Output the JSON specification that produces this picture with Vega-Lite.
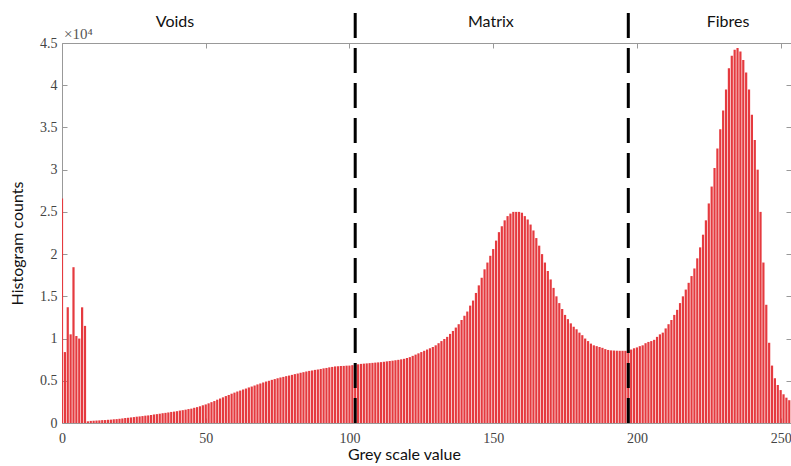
{
  "$schema": "https://vega.github.io/schema/vega-lite/v6.json",
  "width": 729,
  "height": 380,
  "padding": {"left": 62, "top": 43, "right": 0, "bottom": 43},
  "autosize": {"type": "none"},
  "background": "white",
  "config": {"view": {"stroke": null}},
  "datasets": {
    "hist": [
      {"g":0,"c":26600},{"g":1,"c":8400},{"g":2,"c":13700},{"g":3,"c":10500},{"g":4,"c":18450},{"g":5,"c":10300},{"g":6,"c":10000},{"g":7,"c":13700},{"g":8,"c":11500},{"g":9,"c":200},
      {"g":10,"c":250},{"g":11,"c":270},{"g":12,"c":290},{"g":13,"c":310},{"g":14,"c":340},{"g":15,"c":350},{"g":16,"c":380},{"g":17,"c":400},{"g":18,"c":440},{"g":19,"c":460},
      {"g":20,"c":500},{"g":21,"c":540},{"g":22,"c":590},{"g":23,"c":620},{"g":24,"c":660},{"g":25,"c":700},{"g":26,"c":750},{"g":27,"c":780},{"g":28,"c":820},{"g":29,"c":870},
      {"g":30,"c":900},{"g":31,"c":950},{"g":32,"c":1010},{"g":33,"c":1050},{"g":34,"c":1100},{"g":35,"c":1160},{"g":36,"c":1200},{"g":37,"c":1250},{"g":38,"c":1310},{"g":39,"c":1350},
      {"g":40,"c":1400},{"g":41,"c":1470},{"g":42,"c":1520},{"g":43,"c":1580},{"g":44,"c":1650},{"g":45,"c":1700},{"g":46,"c":1800},{"g":47,"c":1880},{"g":48,"c":1980},{"g":49,"c":2100},
      {"g":50,"c":2200},{"g":51,"c":2330},{"g":52,"c":2470},{"g":53,"c":2600},{"g":54,"c":2760},{"g":55,"c":2900},{"g":56,"c":3040},{"g":57,"c":3190},{"g":58,"c":3320},{"g":59,"c":3470},
      {"g":60,"c":3600},{"g":61,"c":3730},{"g":62,"c":3840},{"g":63,"c":3970},{"g":64,"c":4080},{"g":65,"c":4210},{"g":66,"c":4320},{"g":67,"c":4440},{"g":68,"c":4570},{"g":69,"c":4680},
      {"g":70,"c":4800},{"g":71,"c":4910},{"g":72,"c":5000},{"g":73,"c":5110},{"g":74,"c":5200},{"g":75,"c":5300},{"g":76,"c":5390},{"g":77,"c":5460},{"g":78,"c":5550},{"g":79,"c":5620},
      {"g":80,"c":5700},{"g":81,"c":5790},{"g":82,"c":5860},{"g":83,"c":5950},{"g":84,"c":6020},{"g":85,"c":6100},{"g":86,"c":6170},{"g":87,"c":6220},{"g":88,"c":6290},{"g":89,"c":6340},
      {"g":90,"c":6400},{"g":91,"c":6470},{"g":92,"c":6520},{"g":93,"c":6590},{"g":94,"c":6640},{"g":95,"c":6700},{"g":96,"c":6720},{"g":97,"c":6750},{"g":98,"c":6760},{"g":99,"c":6790},
      {"g":100,"c":6800},{"g":101,"c":6850},{"g":102,"c":6900},{"g":103,"c":6950},{"g":104,"c":7000},{"g":105,"c":7030},{"g":106,"c":7060},{"g":107,"c":7090},{"g":108,"c":7120},{"g":109,"c":7150},
      {"g":110,"c":7180},{"g":111,"c":7210},{"g":112,"c":7250},{"g":113,"c":7300},{"g":114,"c":7340},{"g":115,"c":7380},{"g":116,"c":7430},{"g":117,"c":7480},{"g":118,"c":7540},{"g":119,"c":7600},
      {"g":120,"c":7700},{"g":121,"c":7800},{"g":122,"c":7950},{"g":123,"c":8100},{"g":124,"c":8250},{"g":125,"c":8400},{"g":126,"c":8550},{"g":127,"c":8700},{"g":128,"c":8850},{"g":129,"c":9000},
      {"g":130,"c":9200},{"g":131,"c":9450},{"g":132,"c":9700},{"g":133,"c":9950},{"g":134,"c":10200},{"g":135,"c":10550},{"g":136,"c":10900},{"g":137,"c":11300},{"g":138,"c":11700},{"g":139,"c":12200},
      {"g":140,"c":12700},{"g":141,"c":13200},{"g":142,"c":13900},{"g":143,"c":14500},{"g":144,"c":15400},{"g":145,"c":16300},{"g":146,"c":17200},{"g":147,"c":18200},{"g":148,"c":19000},{"g":149,"c":19800},
      {"g":150,"c":20600},{"g":151,"c":21600},{"g":152,"c":22600},{"g":153,"c":23300},{"g":154,"c":24000},{"g":155,"c":24500},{"g":156,"c":24800},{"g":157,"c":25000},{"g":158,"c":25000},{"g":159,"c":25000},
      {"g":160,"c":24900},{"g":161,"c":24500},{"g":162,"c":24100},{"g":163,"c":23500},{"g":164,"c":22800},{"g":165,"c":21900},{"g":166,"c":21000},{"g":167,"c":20000},{"g":168,"c":19000},{"g":169,"c":18000},
      {"g":170,"c":17000},{"g":171,"c":16000},{"g":172,"c":15000},{"g":173,"c":14200},{"g":174,"c":13500},{"g":175,"c":12800},{"g":176,"c":12300},{"g":177,"c":11800},{"g":178,"c":11400},{"g":179,"c":11100},
      {"g":180,"c":10700},{"g":181,"c":10400},{"g":182,"c":10000},{"g":183,"c":9700},{"g":184,"c":9400},{"g":185,"c":9200},{"g":186,"c":9100},{"g":187,"c":9000},{"g":188,"c":8900},{"g":189,"c":8750},
      {"g":190,"c":8650},{"g":191,"c":8600},{"g":192,"c":8580},{"g":193,"c":8560},{"g":194,"c":8550},{"g":195,"c":8550},{"g":196,"c":8550},{"g":197,"c":8600},{"g":198,"c":8700},{"g":199,"c":8850},
      {"g":200,"c":8950},{"g":201,"c":9100},{"g":202,"c":9200},{"g":203,"c":9450},{"g":204,"c":9600},{"g":205,"c":9700},{"g":206,"c":9850},{"g":207,"c":10200},{"g":208,"c":10500},{"g":209,"c":10700},
      {"g":210,"c":11200},{"g":211,"c":11700},{"g":212,"c":12200},{"g":213,"c":12800},{"g":214,"c":13400},{"g":215,"c":14200},{"g":216,"c":15000},{"g":217,"c":15800},{"g":218,"c":16600},{"g":219,"c":17400},
      {"g":220,"c":18300},{"g":221,"c":19500},{"g":222,"c":20800},{"g":223,"c":22300},{"g":224,"c":24000},{"g":225,"c":26000},{"g":226,"c":28000},{"g":227,"c":30200},{"g":228,"c":32500},{"g":229,"c":34800},
      {"g":230,"c":37000},{"g":231,"c":39500},{"g":232,"c":42000},{"g":233,"c":43500},{"g":234,"c":44200},{"g":235,"c":44400},{"g":236,"c":44000},{"g":237,"c":43000},{"g":238,"c":41500},{"g":239,"c":39500},
      {"g":240,"c":36500},{"g":241,"c":33500},{"g":242,"c":30000},{"g":243,"c":25000},{"g":244,"c":19000},{"g":245,"c":14000},{"g":246,"c":9500},{"g":247,"c":6800},{"g":248,"c":5300},{"g":249,"c":4500},
      {"g":250,"c":3900},{"g":251,"c":3400},{"g":252,"c":3000},{"g":253,"c":2700},{"g":254,"c":2300},{"g":255,"c":1800}
    ],
    "bounds": [{"g": 102, "lo": 0, "hi": 49500}, {"g": 197, "lo": 0, "hi": 49500}],
    "regions": [
      {"g": 39.3, "c": 47500, "label": "Voids"},
      {"g": 149.2, "c": 47500, "label": "Matrix"},
      {"g": 231.7, "c": 47500, "label": "Fibres"}
    ],
    "exp": [{"g": 0, "c": 45000, "label": "×10⁴"}]
  },
  "resolve": {"axis": {"x": "independent", "y": "independent"}},
  "layer": [
    {
      "data": {"name": "hist"},
      "mark": {"type": "bar", "width": 2.2, "color": "#e53a3f", "clip": true},
      "encoding": {
        "x": {
          "field": "g", "type": "quantitative",
          "scale": {"domain": [0, 253.6], "nice": false, "zero": false, "padding": 0},
          "axis": {
            "orient": "bottom", "values": [0, 50, 100, 150, 200, 250],
            "title": "Grey scale value", "titleFont": "Lato", "titleFontSize": 16, "titleFontWeight": "normal",
            "titleColor": "#111", "titleX": 342, "titlePadding": 1,
            "labelFont": "Liberation Serif", "labelFontSize": 14, "labelColor": "#444",
            "labelPadding": 13, "tickSize": -5, "tickColor": "#999", "domainColor": "#999",
            "grid": false, "labelFlush": false
          }
        },
        "y": {
          "field": "c", "type": "quantitative",
          "scale": {"domain": [0, 45000], "nice": false},
          "axis": {
            "orient": "left", "values": [0, 5000, 10000, 15000, 20000, 25000, 30000, 35000, 40000, 45000],
            "labelExpr": "datum.value / 10000",
            "title": "Histogram counts", "titleFont": "Lato", "titleFontSize": 16, "titleFontWeight": "normal",
            "titleColor": "#111", "titlePadding": 14, "titleY": 200,
            "labelFont": "Liberation Serif", "labelFontSize": 14, "labelColor": "#444",
            "labelPadding": 10, "tickSize": -5, "tickColor": "#999", "domainColor": "#999",
            "grid": false
          }
        }
      }
    },
    {
      "data": {"name": "bounds"},
      "mark": {"type": "rule", "color": "black", "strokeWidth": 3, "strokeDash": [25, 10], "clip": false},
      "encoding": {
        "x": {
          "field": "g", "type": "quantitative",
          "axis": {"orient": "top", "values": [0, 50, 100, 150, 200, 250], "labels": false, "title": null,
                   "tickSize": -5, "tickColor": "#999", "domainColor": "#999", "grid": false}
        },
        "y": {
          "field": "lo", "type": "quantitative",
          "axis": {"orient": "right", "values": [0, 5000, 10000, 15000, 20000, 25000, 30000, 35000, 40000, 45000],
                   "labels": false, "title": null, "tickSize": -5, "tickColor": "#999", "domainColor": "#999", "grid": false}
        },
        "y2": {"field": "hi"}
      }
    },
    {
      "data": {"name": "regions"},
      "mark": {"type": "text", "font": "Lato", "fontSize": 16, "color": "#111", "align": "center", "baseline": "middle", "clip": false},
      "encoding": {
        "x": {"field": "g", "type": "quantitative", "axis": null},
        "y": {"field": "c", "type": "quantitative", "axis": null},
        "text": {"field": "label"}
      }
    },
    {
      "data": {"name": "exp"},
      "mark": {"type": "text", "font": "Liberation Serif", "fontSize": 15, "color": "#555", "align": "left", "baseline": "bottom", "dx": 2, "dy": -1, "clip": false},
      "encoding": {
        "x": {"field": "g", "type": "quantitative", "axis": null},
        "y": {"field": "c", "type": "quantitative", "axis": null},
        "text": {"field": "label"}
      }
    }
  ]
}
